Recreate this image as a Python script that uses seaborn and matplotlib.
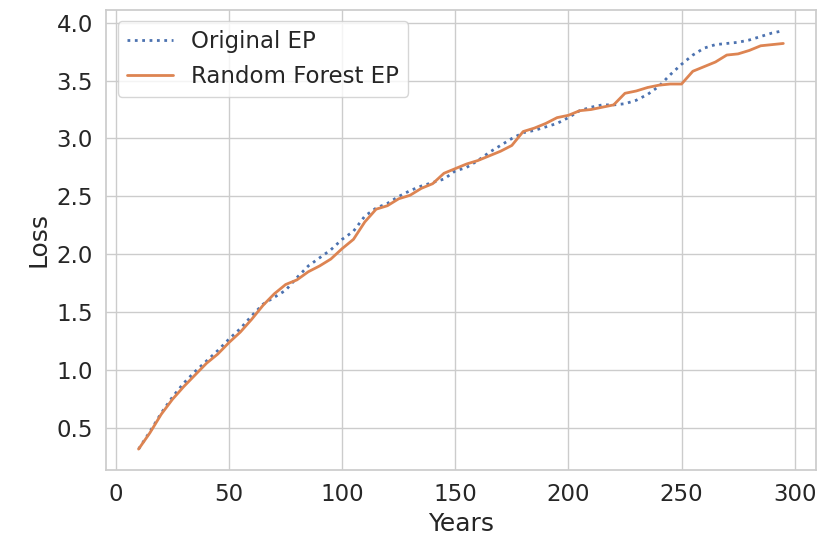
import numpy as np
import pandas as pd
import matplotlib
matplotlib.use("Agg")
import matplotlib.pyplot as plt
import seaborn as sns

# Return periods (years)
years = list(range(10, 300, 5))

# Loss from the original event set
original_ep = [
    0.32, 0.47, 0.63, 0.77, 0.89, 0.99, 1.08, 1.17, 1.27, 1.36,
    1.47, 1.57, 1.63, 1.69, 1.80, 1.90, 1.97, 2.04, 2.13, 2.20,
    2.33, 2.40, 2.44, 2.50, 2.55, 2.59, 2.62, 2.65, 2.72, 2.75,
    2.81, 2.88, 2.94, 3.00, 3.05, 3.07, 3.10, 3.13, 3.18, 3.24,
    3.27, 3.29, 3.29, 3.30, 3.33, 3.38, 3.45, 3.55, 3.64, 3.72,
    3.78, 3.81, 3.82, 3.83, 3.85, 3.88, 3.91, 3.93,
]

# Loss predicted by the random forest model
rf_ep = [
    0.32, 0.46, 0.62, 0.75, 0.86, 0.96, 1.06, 1.14, 1.24, 1.33,
    1.44, 1.56, 1.66, 1.74, 1.78, 1.85, 1.90, 1.96, 2.05, 2.13,
    2.28, 2.39, 2.42, 2.48, 2.51, 2.57, 2.61, 2.70, 2.74, 2.78,
    2.81, 2.85, 2.89, 2.94, 3.06, 3.09, 3.13, 3.18, 3.20, 3.24,
    3.25, 3.27, 3.29, 3.39, 3.41, 3.44, 3.46, 3.47, 3.47, 3.58,
    3.62, 3.66, 3.72, 3.73, 3.76, 3.80, 3.81, 3.82,
]

sns.set_theme(style="whitegrid", context="notebook", font_scale=1.5)

fig, ax = plt.subplots(figsize=(8.18, 5.44), dpi=100)
fig.subplots_adjust(left=0.130, right=0.997, top=0.982, bottom=0.136)

df = pd.DataFrame({"Years": years, "Original EP": original_ep, "Random Forest EP": rf_ep})

sns.lineplot(data=df, x="Years", y="Original EP", ax=ax, label="Original EP",
             color="#4C72B0", linestyle=":", linewidth=2.0)
sns.lineplot(data=df, x="Years", y="Random Forest EP", ax=ax, label="Random Forest EP",
             color="#DD8452", linestyle="-", linewidth=2.0)

ax.set_xlabel("Years")
ax.set_ylabel("Loss")
ax.set_xticks([0, 50, 100, 150, 200, 250, 300])
ax.set_yticks([0.5, 1.0, 1.5, 2.0, 2.5, 3.0, 3.5, 4.0])
ax.legend(loc="upper left")

fig.savefig("out.png", dpi=100)
